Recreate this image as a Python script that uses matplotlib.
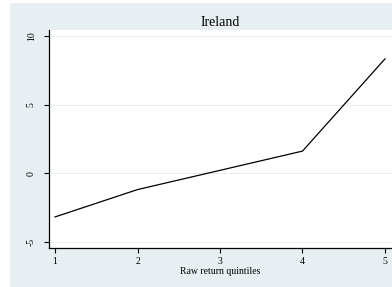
import matplotlib
matplotlib.use("Agg")
import matplotlib.pyplot as plt
from matplotlib.patches import Rectangle

plt.rcParams['font.family'] = ['Liberation Serif', 'DejaVu Serif']

quintiles = [1, 2, 3, 4, 5]
values = [-3.17, -1.18, 0.22, 1.62, 8.33]
yticks = [-5, 0, 5, 10]

bg = '#e8eff2'

fig = plt.figure(figsize=(3.92, 2.87), dpi=100, facecolor='white')
# light backdrop behind everything, leaving a thin white strip left/top
fig.patches.append(Rectangle((10 / 392, 0), 1 - 10 / 392, 1 - 3 / 287,
                             transform=fig.transFigure, facecolor=bg,
                             edgecolor='none', zorder=-10))

ax = fig.add_axes([49 / 392, 1 - 248 / 287, 1 - 49 / 392, (248 - 30) / 287])
ax.set_facecolor('white')
ax.plot(quintiles, values, color='black', lw=0.9)

ax.set_xlim(0.927, 5.085)
ax.set_ylim(-5.43, 10.43)
ax.set_xticks(quintiles)
ax.set_yticks(yticks)
ax.set_yticklabels([str(t) for t in yticks], rotation=90, va='center')
for t in yticks:
    ax.axhline(t, color='#e6eef1', lw=0.8, zorder=0)

ax.spines['top'].set_visible(False)
ax.spines['right'].set_visible(False)
ax.spines['left'].set_linewidth(0.9)
ax.spines['bottom'].set_linewidth(0.9)
ax.tick_params(axis='both', labelsize=7, length=3.5, width=0.8, pad=3)
ax.tick_params(axis='y', pad=6)

ax.set_xlabel('Raw return quintiles', fontsize=7, labelpad=1)
fig.text((49 + 392) / 2 / 392, 1 - 26 / 287, 'Ireland', ha='center',
         va='baseline', fontsize=10)

fig.savefig('out.png', dpi=100, facecolor=fig.get_facecolor())
